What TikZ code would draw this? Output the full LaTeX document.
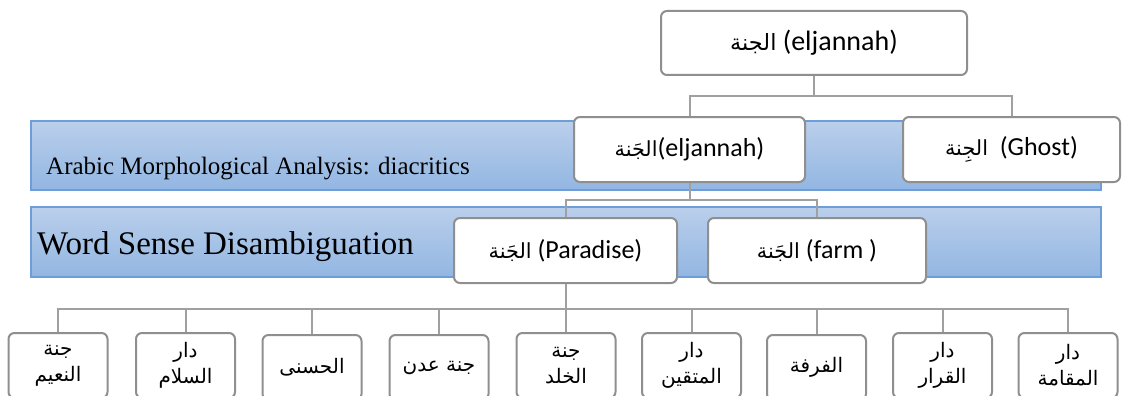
\documentclass[tikz,border=0pt]{standalone}
\usepackage{fontspec}
\setmainfont{Liberation Serif}
\newfontfamily\boxfont{Carlito}
\newfontfamily\arfont[Script=Arabic,Scale=0.8]{DejaVu Sans}
\TeXXeTstate=1
\newcommand{\artext}[1]{{\arfont\beginR #1\endR}}
\newcommand{\twoline}[2]{\artext{#1}\\\artext{#2}}

\definecolor{bandtop}{RGB}{186,207,235}
\definecolor{bandbot}{RGB}{146,182,226}
\definecolor{bandedge}{RGB}{110,158,218}
\definecolor{boxline}{RGB}{143,143,143}
\definecolor{connline}{RGB}{160,160,160}

\begin{document}
\begin{tikzpicture}[x=1pt,y=-1pt,
  band/.style={draw=bandedge, line width=1.3pt, top color=bandtop, bottom color=bandbot, inner sep=0pt},
  bandlabel/.style={anchor=base west, inner sep=0pt, text=black},
  sbox/.style={draw=boxline, line width=2pt, rounded corners=6pt, fill=white,
    inner sep=0pt, align=center, text=black, minimum height=65pt},
  lvlbox/.style={sbox, font=\boxfont\fontsize{26}{30}\selectfont},
  leaf/.style={sbox, minimum width=99pt, font=\fontsize{25}{26}\selectfont},
  conn/.style={draw=connline, line width=2pt}]
\useasboundingbox (0,0) rectangle (1125,396);
\clip (0,0) rectangle (1125,396);

% the two analysis bands
\node[band, minimum width=1070pt, minimum height=69pt] (band1) at (566,155.5) {};
\node[band, minimum width=1070pt, minimum height=70pt] (band2) at (566,242) {};
\node[bandlabel, font=\fontsize{25}{30}\selectfont] (lab1) at (46,174) {Arabic Morphological Analysis: diacritics};
\node[bandlabel, font=\fontsize{33}{38}\selectfont] (lab2) at (37,254) {Word Sense Disambiguation};

% word and its senses
\node[sbox, minimum width=306pt, minimum height=64pt, font=\boxfont\fontsize{28}{32}\selectfont] (root) at (814,43) {\artext{الجنة} (eljannah)};
\node[lvlbox, minimum width=231pt] (sense1) at (689.5,149.5) {\artext{الجَنة}(eljannah)};
\node[lvlbox, minimum width=217pt] (ghost) at (1011.5,149.5) {\artext{الجِنة}\ \ (Ghost)};
\node[lvlbox, minimum width=223pt] (paradise) at (565.5,250.5) {\artext{الجَنة} (Paradise)};
\node[lvlbox, minimum width=218pt] (farm) at (817,250.5) {\artext{الجَنة} (farm )};

% names of paradise
\node[leaf] (w1) at (58,365.5)    {\twoline{جنة}{النعيم}};
\node[leaf] (w2) at (185.5,365.5) {\twoline{دار}{السلام}};
\node[leaf] (w3) at (312,367.5)   {\artext{الحسنى}};
\node[leaf] (w4) at (439,367.5)   {\artext{جنة عدن}};
\node[leaf] (w5) at (566,365.5)   {\twoline{جنة}{الخلد}};
\node[leaf] (w6) at (691.5,365.5) {\twoline{دار}{المتقين}};
\node[leaf] (w7) at (816.5,367.5) {\artext{الفرفة}};
\node[leaf] (w8) at (942.5,365.5) {\twoline{دار}{القرار}};
\node[leaf] (w9) at (1068,365.5)  {\twoline{دار}{المقامة}};

% connectors
\coordinate (bus1) at (0,96);
\coordinate (bus2) at (0,199.5);
\coordinate (bus3) at (0,308.5);
\draw[conn] (root.south) -- (root.south |- bus1);
\draw[conn] (sense1.north) -- (sense1.north |- bus1) -- (ghost.north |- bus1) -- (ghost.north);
\draw[conn] (sense1.south) -- (sense1.south |- bus2);
\draw[conn] (paradise.north) -- (paradise.north |- bus2) -- (farm.north |- bus2) -- (farm.north);
\draw[conn] (paradise.south) -- (paradise.south |- bus3);
\draw[conn] (w1.north) -- (w1.north |- bus3) -- (w9.north |- bus3) -- (w9.north);
\foreach \i in {2,...,8} {\draw[conn] (w\i.north) -- (w\i.north |- bus3);}
\end{tikzpicture}
\end{document}
